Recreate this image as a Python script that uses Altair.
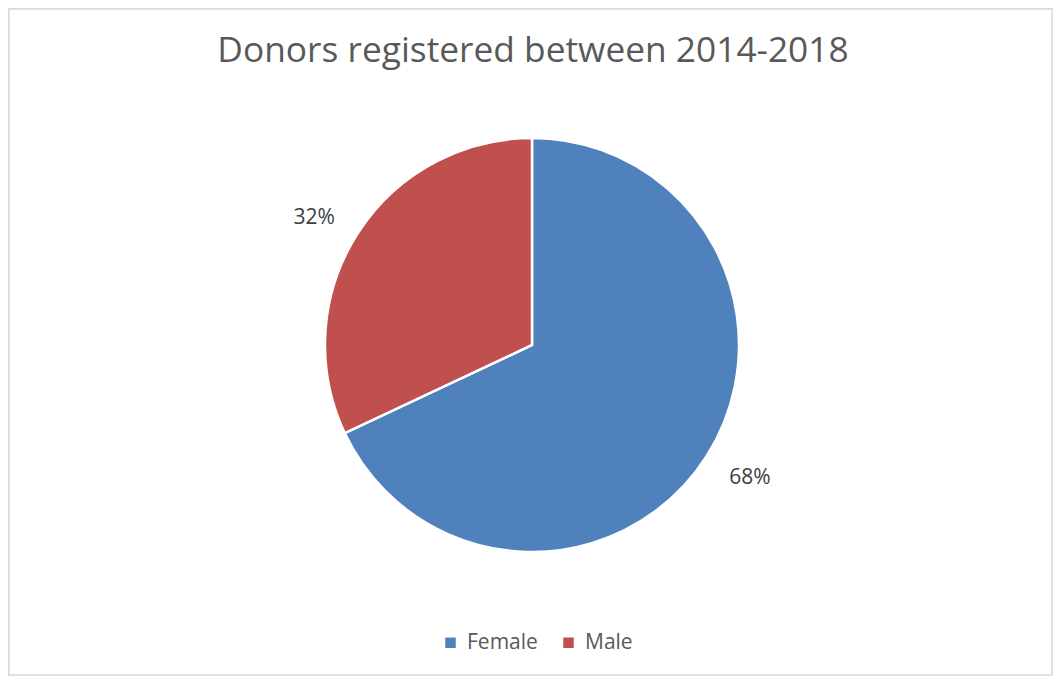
import altair as alt
import pandas as pd

categories = ["Female", "Male"]
shares = [68, 32]
labels = ["68%", "32%"]
colors = ["#4F81BD", "#C0504D"]
title_text = "Donors registered between 2014-2018"

df = pd.DataFrame({"Gender": categories, "Share": shares, "Label": labels,
                   "order": [0, 1]})

W, H = 1045, 668
CX, CY = 524, 337

border = alt.Chart(pd.DataFrame({"b": [1]})).mark_rect(
    fill="white", stroke="#d9d9d9", strokeWidth=1.5
).encode(x=alt.value(1), x2=alt.value(W - 1), y=alt.value(1), y2=alt.value(H - 1))

base = alt.Chart(df).encode(
    theta=alt.Theta("Share:Q", stack=True),
    order=alt.Order("order:O"),
)

pie = base.mark_arc(outerRadius=207, stroke="white", strokeWidth=2.5).encode(
    color=alt.Color("Gender:N", scale=alt.Scale(domain=categories, range=colors),
                    sort=categories,
                    legend=alt.Legend(title=None, orient="none", direction="horizontal",
                                      legendX=432, legendY=624,
                                      symbolType="square", symbolSize=110,
                                      labelFontSize=21, labelColor="#595959",
                                      labelFont="Open Sans", columnPadding=20,
                                      symbolOffset=0, labelOffset=6,
                                      symbolStrokeWidth=0)),
    x=alt.value(CX), y=alt.value(CY),
)

text = base.mark_text(radius=254, thetaOffset=-0.026, fontSize=21, font="Open Sans",
                      color="#404040", dy=3).encode(
    text="Label:N", x=alt.value(CX), y=alt.value(CY),
)

title = alt.Chart(pd.DataFrame({"t": [title_text]})).mark_text(
    fontSize=35.3, font="Open Sans", color="#595959", baseline="alphabetic"
).encode(text="t:N", x=alt.value(525), y=alt.value(54))

chart = alt.layer(border, pie, text, title).properties(
    width=W, height=H, padding=0
).configure_view(stroke=None).configure(background="white")

chart.save("out.html", embed_options={"renderer": "svg", "actions": False})
